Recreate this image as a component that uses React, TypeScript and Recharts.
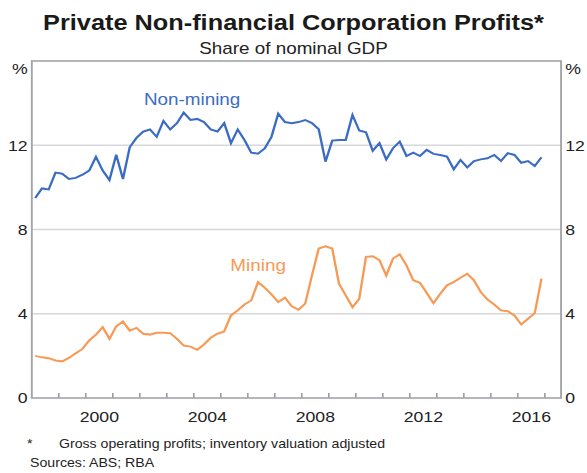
import React from 'react';
import { LineChart, Line, XAxis, YAxis } from 'recharts';

// quarterly, 1998 Q1 to 2016 Q4, per cent of nominal GDP
const START_YEAR = 1998;

const nonMining = [
  9.5, 9.95, 9.9, 10.7,
  10.65, 10.4, 10.45, 10.6,
  10.8, 11.45, 10.8, 10.35,
  11.55, 10.4, 11.9, 12.35,
  12.65, 12.75, 12.4, 13.15,
  12.75, 13.05, 13.55, 13.2,
  13.25, 13.1, 12.75, 12.65,
  13.05, 12.1, 12.75, 12.25,
  11.65, 11.6, 11.85, 12.4,
  13.5, 13.1, 13.05, 13.1,
  13.2, 13.05, 12.76, 11.22,
  12.22, 12.25, 12.25, 13.44,
  12.7, 12.62, 11.74, 12.1,
  11.33, 11.86, 12.17, 11.49,
  11.65, 11.49, 11.78, 11.59,
  11.54, 11.46, 10.86, 11.3,
  10.95, 11.25, 11.33, 11.38,
  11.54, 11.25, 11.62, 11.54,
  11.17, 11.25, 11.01, 11.43,
];

const mining = [
  2.0, 1.93, 1.89, 1.78,
  1.74, 1.9, 2.12, 2.33,
  2.73, 3.01, 3.36, 2.81,
  3.4, 3.63, 3.2, 3.33,
  3.05, 3.01, 3.1, 3.1,
  3.08, 2.81, 2.49, 2.44,
  2.29, 2.54, 2.86, 3.05,
  3.16, 3.92, 4.16, 4.44,
  4.63, 5.5, 5.24, 4.92,
  4.55, 4.76, 4.35, 4.19,
  4.48, 5.82, 7.1, 7.2,
  7.1, 5.43, 4.87, 4.31,
  4.71, 6.7, 6.73, 6.54,
  5.82, 6.62, 6.82, 6.3,
  5.59, 5.47, 4.98, 4.5,
  4.95, 5.35, 5.5, 5.71,
  5.9, 5.59, 5.03, 4.67,
  4.44, 4.16, 4.12, 3.92,
  3.49, 3.76, 4.03, 5.67,
];

const yearTicks = [
  1999, 2000, 2001, 2002, 2003, 2004, 2005, 2006, 2007, 2008,
  2009, 2010, 2011, 2012, 2013, 2014, 2015, 2016, 2017,
];
const yearLabels = [2000, 2004, 2008, 2012, 2016];
const yTicks = [0, 4, 8, 12, 16];
const gridValues = [4, 8, 12];

const data = nonMining.map((v, i) => ({
  t: START_YEAR + 0.125 + i * 0.25,
  nonMining: v,
  mining: mining[i],
}));

// the reference is stretched sideways, so draw narrow and scale x
const W = 498;
const H = 473;
const STRETCH = 587 / W;

const X_DOMAIN: [number, number] = [1998, 2017.6];
const Y_DOMAIN: [number, number] = [0, 16];

// chart box, from the margins and axis sizes given to LineChart below
const MARGIN = { top: 61, right: 0, bottom: 47, left: 0 };
const LEFT_W = 27;
const RIGHT_W = 22;
const XAXIS_H = 28;
const PLOT_L = MARGIN.left + LEFT_W;
const PLOT_R = W - MARGIN.right - RIGHT_W;
const PLOT_T = MARGIN.top;
const PLOT_B = H - MARGIN.bottom - XAXIS_H;

// frame decoration only: same linear mapping the axes use
const xOf = (v: number) => PLOT_L + ((v - X_DOMAIN[0]) / (X_DOMAIN[1] - X_DOMAIN[0])) * (PLOT_R - PLOT_L);
const yOf = (v: number) => PLOT_B - ((v - Y_DOMAIN[0]) / (Y_DOMAIN[1] - Y_DOMAIN[0])) * (PLOT_B - PLOT_T);

const FONT = '"Liberation Sans", Arial, sans-serif';
const BLUE = '#3B6CC3';
const ORANGE = '#F79A55';
const BORDER = '#a2a4a8';
const GRID = '#d7d8db';
const TEXT = '#222';

const LeftTick = ({ x, y, payload }: any) => {
  const pct = payload.value === 16;
  return (
    <text x={x} y={y} dy={pct ? 13.5 : 5.3} textAnchor="end" fontSize={15} fontFamily={FONT} fill={TEXT}>
      {pct ? '%' : payload.value}
    </text>
  );
};

const RightTick = ({ x, y, payload }: any) => {
  const pct = payload.value === 16;
  return (
    <text x={x} y={y} dy={pct ? 13.5 : 5.3} textAnchor="start" fontSize={15} fontFamily={FONT} fill={TEXT}>
      {pct ? '%' : payload.value}
    </text>
  );
};

export default function App() {
  return (
    <div
      style={{
        position: 'absolute',
        left: 0,
        top: 0,
        width: W,
        height: H,
        background: '#fff',
        transform: `scaleX(${STRETCH})`,
        transformOrigin: '0 0',
      }}
    >
      {/* gridlines, frame and year ticks sit under the chart */}
      <svg width={W} height={H} style={{ position: 'absolute', left: 0, top: 0 }}>
        {gridValues.map((v) => (
          <line key={v} x1={PLOT_L} x2={PLOT_R} y1={yOf(v)} y2={yOf(v)} stroke={GRID} strokeWidth={1.6} />
        ))}
        {yearTicks.map((yr) => (
          <line key={yr} x1={xOf(yr)} x2={xOf(yr)} y1={PLOT_B} y2={PLOT_B - 5} stroke="#8e9094" strokeWidth={1.2} />
        ))}
        <rect
          x={PLOT_L}
          y={PLOT_T}
          width={PLOT_R - PLOT_L}
          height={PLOT_B - PLOT_T}
          fill="none"
          stroke={BORDER}
          strokeWidth={1.6}
        />
      </svg>
      <LineChart width={W} height={H} data={data} margin={MARGIN}>
        <XAxis
          xAxisId="yr"
          dataKey="t"
          type="number"
          domain={X_DOMAIN}
          allowDataOverflow
          ticks={yearLabels.map((y) => y + 0.5)}
          interval={0}
          tickFormatter={(v: number) => String(Math.floor(v))}
          tick={{ fontSize: 15, fontFamily: FONT, fill: TEXT }}
          tickLine={false}
          tickSize={5}
          tickMargin={8}
          height={XAXIS_H}
          axisLine={false}
        />
        <YAxis
          yAxisId="left"
          domain={Y_DOMAIN}
          ticks={yTicks}
          interval={0}
          width={LEFT_W}
          tick={<LeftTick />}
          tickLine={false}
          tickSize={0}
          tickMargin={3.5}
          axisLine={false}
        />
        <YAxis
          yAxisId="right"
          orientation="right"
          domain={Y_DOMAIN}
          ticks={yTicks}
          interval={0}
          width={RIGHT_W}
          tick={<RightTick />}
          tickLine={false}
          tickSize={0}
          tickMargin={3.5}
          axisLine={false}
        />
        <Line
          xAxisId="yr"
          yAxisId="left"
          dataKey="nonMining"
          stroke={BLUE}
          strokeWidth={2}
          dot={false}
          type="linear"
          isAnimationActive={false}
        />
        <Line
          xAxisId="yr"
          yAxisId="right"
          dataKey="mining"
          stroke={ORANGE}
          strokeWidth={2}
          dot={false}
          type="linear"
          isAnimationActive={false}
        />
      </LineChart>
      <svg
        width={W}
        height={H}
        style={{ position: 'absolute', left: 0, top: 0, pointerEvents: 'none' }}
        fontFamily={FONT}
      >
        <text x={W / 2} y={30.5} textAnchor="middle" fontSize={21.5} fontWeight="bold" fill="#1a1a1a">
          Private Non-financial Corporation Profits*
        </text>
        <text x={W / 2} y={54} textAnchor="middle" fontSize={16} fill={TEXT}>
          Share of nominal GDP
        </text>
        <text x={163} y={105} textAnchor="middle" fontSize={16} fill={BLUE}>
          Non-mining
        </text>
        <text x={219} y={271.5} textAnchor="middle" fontSize={16} fill={ORANGE}>
          Mining
        </text>
        <text x={23} y={448} fontSize={12} fill={TEXT}>
          *
        </text>
        <text x={50} y={448} fontSize={12} fill={TEXT}>
          Gross operating profits; inventory valuation adjusted
        </text>
        <text x={25.5} y={467} fontSize={12} fill={TEXT}>
          Sources: ABS; RBA
        </text>
      </svg>
    </div>
  );
}
